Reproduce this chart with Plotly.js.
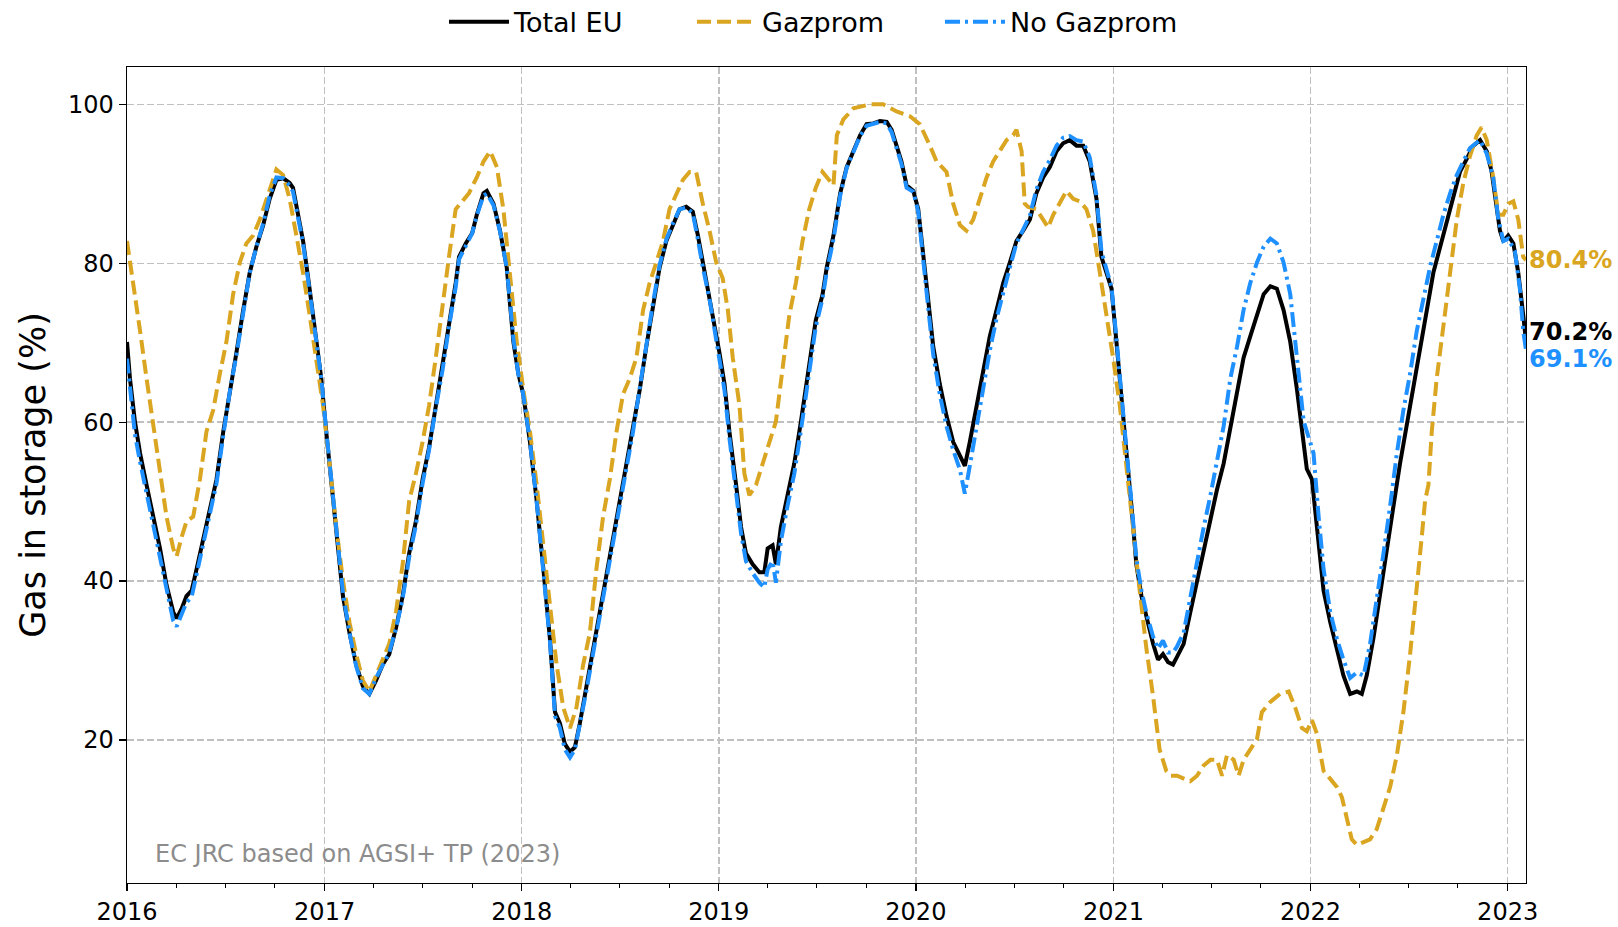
<!DOCTYPE html>
<html>
<head>
<meta charset="utf-8">
<script src="https://cdn.plot.ly/plotly-3.0.1.min.js"></script>
<style>html,body{margin:0;padding:0;background:#fff;}#chart{width:1618px;height:927px;}</style>
</head>
<body>
<div id="chart"></div>
<script>
// ---- Data (decimal years, % of storage filled) ----
const totalT = [2016.000,2016.015,2016.040,2016.066,2016.099,2016.133,2016.167,2016.200,2016.234,2016.251,2016.276,2016.301,2016.327,2016.352,2016.386,2016.419,2016.453,2016.487,2016.520,2016.554,2016.588,2016.621,2016.655,2016.689,2016.722,2016.756,2016.790,2016.823,2016.840,2016.865,2016.891,2016.924,2016.958,2016.983,2017.008,2017.042,2017.067,2017.093,2017.126,2017.160,2017.194,2017.227,2017.261,2017.295,2017.328,2017.362,2017.396,2017.429,2017.463,2017.497,2017.530,2017.564,2017.598,2017.631,2017.665,2017.682,2017.716,2017.749,2017.772,2017.806,2017.823,2017.857,2017.890,2017.924,2017.958,2017.983,2018.008,2018.042,2018.076,2018.110,2018.143,2018.169,2018.194,2018.219,2018.245,2018.270,2018.295,2018.329,2018.363,2018.396,2018.430,2018.464,2018.497,2018.531,2018.565,2018.599,2018.632,2018.666,2018.700,2018.734,2018.767,2018.801,2018.835,2018.868,2018.894,2018.919,2018.953,2018.978,2019.003,2019.029,2019.054,2019.088,2019.113,2019.138,2019.172,2019.206,2019.231,2019.248,2019.273,2019.290,2019.315,2019.349,2019.383,2019.417,2019.459,2019.492,2019.526,2019.548,2019.582,2019.616,2019.649,2019.683,2019.717,2019.750,2019.784,2019.818,2019.852,2019.877,2019.902,2019.927,2019.953,2019.987,2020.012,2020.037,2020.062,2020.088,2020.121,2020.155,2020.189,2020.223,2020.248,2020.273,2020.307,2020.341,2020.374,2020.408,2020.442,2020.476,2020.509,2020.543,2020.577,2020.610,2020.644,2020.678,2020.712,2020.745,2020.779,2020.813,2020.847,2020.880,2020.914,2020.939,2020.965,2020.990,2021.015,2021.040,2021.066,2021.091,2021.116,2021.142,2021.167,2021.201,2021.226,2021.251,2021.277,2021.302,2021.323,2021.356,2021.390,2021.424,2021.458,2021.492,2021.525,2021.559,2021.593,2021.627,2021.660,2021.694,2021.728,2021.762,2021.796,2021.829,2021.863,2021.897,2021.931,2021.956,2021.981,2022.007,2022.032,2022.066,2022.100,2022.133,2022.167,2022.201,2022.235,2022.260,2022.285,2022.319,2022.353,2022.387,2022.421,2022.454,2022.488,2022.522,2022.556,2022.590,2022.623,2022.657,2022.691,2022.725,2022.758,2022.792,2022.826,2022.860,2022.894,2022.919,2022.944,2022.961,2022.978,2023.003,2023.029,2023.054,2023.079,2023.093];
const totalV = [70.1,65.5,60.1,56.1,52.1,48.1,44.1,39.5,36.1,35.3,36.5,38.1,38.8,41.5,45.5,48.8,52.8,58.8,64.1,68.8,74.1,78.8,82.1,84.8,88.1,90.5,90.7,90.1,89.5,86.1,82.8,76.8,70.1,65.5,58.8,50.1,44.1,38.1,33.5,29.5,26.8,25.8,27.5,29.5,30.8,34.1,38.1,43.5,47.5,52.8,56.8,62.1,66.8,72.1,77.5,80.8,82.5,83.8,86.1,88.8,89.1,87.5,84.1,79.5,70.1,66.1,63.5,57.5,50.1,41.5,32.8,23.5,22.1,19.5,18.5,19.1,22.1,26.8,31.5,36.1,40.1,44.8,49.5,54.1,58.8,64.1,69.5,74.8,79.5,82.8,84.8,86.8,87.1,86.5,83.5,80.1,76.1,72.1,68.8,64.8,58.8,52.1,46.8,43.5,42.1,41.1,41.1,44.1,44.5,42.1,46.8,50.8,54.8,60.1,66.8,72.8,76.0,79.5,83.5,88.8,92.1,94.1,96.1,97.5,97.6,97.9,97.8,96.8,94.8,92.8,89.8,89.1,86.8,81.5,75.5,69.5,64.8,60.8,57.5,55.8,54.5,57.5,62.1,66.8,70.8,74.1,77.5,80.1,82.8,84.1,85.5,88.8,90.8,92.1,94.1,95.1,95.5,94.8,94.8,92.8,88.1,80.8,78.8,76.8,70.1,62.8,56.1,49.5,42.1,38.1,35.5,32.1,30.1,30.8,29.8,29.5,30.5,32.1,36.1,40.1,44.1,48.1,51.5,54.8,59.5,64.1,68.1,70.8,73.5,76.1,77.1,76.8,74.1,70.1,64.1,58.8,54.1,52.8,46.8,38.8,34.8,31.5,28.1,25.8,26.1,25.8,28.1,32.8,38.1,44.1,49.5,54.8,59.5,64.1,69.5,74.1,78.8,82.1,85.5,88.8,91.5,93.1,94.8,95.5,94.1,91.5,87.5,84.1,82.8,83.5,82.5,78.8,73.5,70.2];

const gazT = [2016.000,2016.032,2016.066,2016.099,2016.133,2016.167,2016.200,2016.234,2016.251,2016.276,2016.301,2016.335,2016.369,2016.402,2016.436,2016.470,2016.503,2016.537,2016.571,2016.604,2016.638,2016.672,2016.705,2016.739,2016.756,2016.790,2016.823,2016.857,2016.891,2016.924,2016.958,2016.992,2017.025,2017.059,2017.093,2017.126,2017.160,2017.194,2017.227,2017.261,2017.295,2017.328,2017.362,2017.396,2017.429,2017.463,2017.497,2017.530,2017.564,2017.598,2017.631,2017.665,2017.699,2017.732,2017.772,2017.806,2017.840,2017.874,2017.907,2017.941,2017.975,2018.008,2018.042,2018.076,2018.110,2018.143,2018.177,2018.211,2018.245,2018.278,2018.312,2018.346,2018.379,2018.413,2018.447,2018.481,2018.514,2018.548,2018.582,2018.616,2018.649,2018.683,2018.717,2018.750,2018.784,2018.818,2018.852,2018.885,2018.919,2018.953,2018.987,2019.020,2019.046,2019.071,2019.105,2019.130,2019.155,2019.189,2019.223,2019.256,2019.290,2019.324,2019.358,2019.391,2019.425,2019.459,2019.492,2019.526,2019.548,2019.582,2019.599,2019.632,2019.683,2019.767,2019.834,2019.902,2019.970,2020.020,2020.071,2020.105,2020.155,2020.189,2020.223,2020.256,2020.290,2020.324,2020.358,2020.391,2020.425,2020.459,2020.492,2020.509,2020.535,2020.551,2020.568,2020.610,2020.644,2020.669,2020.695,2020.728,2020.762,2020.796,2020.830,2020.863,2020.897,2020.931,2020.965,2020.998,2021.032,2021.066,2021.099,2021.133,2021.167,2021.201,2021.234,2021.268,2021.289,2021.323,2021.356,2021.390,2021.424,2021.458,2021.492,2021.525,2021.551,2021.576,2021.610,2021.635,2021.660,2021.694,2021.728,2021.753,2021.796,2021.846,2021.889,2021.922,2021.956,2021.981,2022.007,2022.032,2022.066,2022.100,2022.133,2022.159,2022.184,2022.209,2022.235,2022.269,2022.302,2022.336,2022.370,2022.404,2022.438,2022.471,2022.505,2022.539,2022.564,2022.581,2022.598,2022.615,2022.640,2022.674,2022.708,2022.742,2022.775,2022.809,2022.843,2022.868,2022.894,2022.927,2022.953,2022.978,2023.003,2023.029,2023.054,2023.079,2023.093];
const gazV = [82.8,77.5,71.5,65.5,59.5,53.5,48.1,44.1,43.1,45.5,47.5,48.1,52.8,58.8,61.5,66.1,70.1,76.1,80.1,82.5,83.5,85.5,88.1,90.8,91.8,91.1,88.1,83.5,78.8,73.5,68.1,62.1,54.8,46.8,40.1,34.8,30.8,27.5,26.1,28.1,30.1,32.1,36.1,42.1,50.1,53.5,57.5,62.1,68.1,74.8,80.8,86.8,87.8,88.8,90.8,92.8,94.1,92.1,86.8,78.8,70.1,64.1,58.8,52.1,44.1,36.8,29.5,24.1,21.5,24.1,29.5,33.5,41.5,48.1,52.8,58.8,63.5,65.5,68.1,74.1,77.5,80.1,82.8,86.8,88.8,90.5,91.5,91.5,87.5,84.1,80.1,78.1,74.1,68.1,62.1,53.5,50.8,52.1,54.8,57.5,60.1,66.8,73.5,77.5,82.8,86.8,89.5,91.5,90.8,89.8,96.1,98.1,99.5,100.0,100.0,99.1,98.5,97.5,94.8,92.8,91.5,87.5,84.8,84.1,85.5,88.1,90.8,92.8,94.1,95.5,96.1,96.8,94.1,87.5,87.1,86.8,85.5,84.5,86.1,87.5,89.1,88.1,87.8,86.8,84.1,78.8,73.5,68.1,62.1,54.8,46.8,38.8,31.5,25.5,18.8,16.1,15.5,15.5,15.1,14.8,15.5,16.8,17.5,17.5,15.5,18.1,17.5,15.5,17.5,18.8,20.1,23.5,24.8,25.8,26.1,24.1,21.5,21.1,22.5,20.8,16.1,15.1,14.1,12.8,10.1,7.5,6.8,7.1,7.5,8.8,11.5,14.1,18.1,23.5,30.8,38.8,45.5,50.1,52.1,58.8,65.5,72.1,78.8,85.5,90.1,93.5,96.1,97.1,95.5,90.8,86.1,86.1,87.5,87.8,85.5,80.8,80.4];

const noGazT = [2016.000,2016.015,2016.040,2016.066,2016.099,2016.133,2016.167,2016.200,2016.234,2016.251,2016.276,2016.301,2016.327,2016.352,2016.386,2016.419,2016.453,2016.487,2016.520,2016.554,2016.588,2016.621,2016.655,2016.689,2016.722,2016.756,2016.790,2016.823,2016.840,2016.865,2016.891,2016.924,2016.958,2016.983,2017.008,2017.042,2017.067,2017.093,2017.126,2017.160,2017.194,2017.227,2017.261,2017.295,2017.328,2017.362,2017.396,2017.429,2017.463,2017.497,2017.530,2017.564,2017.598,2017.631,2017.665,2017.682,2017.716,2017.749,2017.772,2017.806,2017.823,2017.857,2017.890,2017.924,2017.958,2017.983,2018.008,2018.042,2018.076,2018.110,2018.143,2018.169,2018.194,2018.219,2018.245,2018.270,2018.295,2018.329,2018.363,2018.396,2018.430,2018.464,2018.497,2018.531,2018.565,2018.599,2018.632,2018.666,2018.700,2018.734,2018.767,2018.801,2018.835,2018.868,2018.894,2018.919,2018.953,2018.978,2019.003,2019.029,2019.054,2019.088,2019.113,2019.138,2019.172,2019.206,2019.231,2019.248,2019.273,2019.290,2019.315,2019.349,2019.383,2019.417,2019.459,2019.492,2019.526,2019.548,2019.582,2019.616,2019.649,2019.683,2019.717,2019.750,2019.784,2019.818,2019.852,2019.877,2019.902,2019.927,2019.953,2019.987,2020.012,2020.037,2020.062,2020.088,2020.121,2020.155,2020.189,2020.223,2020.248,2020.273,2020.307,2020.341,2020.374,2020.408,2020.442,2020.476,2020.509,2020.543,2020.577,2020.610,2020.644,2020.678,2020.712,2020.745,2020.779,2020.813,2020.847,2020.880,2020.914,2020.939,2020.965,2020.990,2021.015,2021.040,2021.066,2021.091,2021.116,2021.142,2021.167,2021.201,2021.226,2021.251,2021.277,2021.302,2021.323,2021.356,2021.390,2021.424,2021.458,2021.492,2021.525,2021.559,2021.593,2021.627,2021.660,2021.694,2021.728,2021.762,2021.796,2021.829,2021.863,2021.897,2021.931,2021.965,2021.998,2022.015,2022.041,2022.066,2022.100,2022.133,2022.167,2022.201,2022.235,2022.269,2022.302,2022.336,2022.370,2022.404,2022.438,2022.471,2022.505,2022.539,2022.573,2022.606,2022.640,2022.674,2022.708,2022.742,2022.775,2022.809,2022.860,2022.894,2022.927,2022.953,2022.978,2023.003,2023.037,2023.062,2023.079,2023.093];
const noGazV = [68.0,64.0,58.5,55.0,51.0,47.0,43.0,38.5,35.0,34.3,35.8,37.3,38.0,40.8,45.0,48.3,52.3,58.3,63.8,68.5,74.0,78.8,82.1,85.0,88.5,90.8,90.7,89.8,89.0,85.8,82.5,76.5,70.0,65.5,59.0,50.5,44.5,38.5,33.5,29.3,26.5,25.8,27.8,29.5,31.0,34.0,37.8,43.0,47.0,52.3,56.5,61.8,66.5,72.0,77.0,80.5,82.3,83.8,86.0,88.5,88.8,87.3,84.0,79.5,70.5,66.0,63.5,57.5,50.0,41.5,32.5,23.0,21.5,18.8,17.8,18.8,21.8,26.3,31.0,35.5,39.8,44.5,49.3,54.0,58.8,64.3,69.8,75.0,79.8,83.0,85.0,86.8,87.0,86.3,83.0,79.5,75.5,71.5,68.0,64.0,58.0,51.5,46.0,42.5,41.0,39.8,39.2,41.5,42.5,39.8,45.0,49.5,53.5,59.0,66.0,72.0,75.5,79.0,83.0,88.5,92.0,94.0,96.0,97.3,97.6,97.8,97.6,96.5,94.5,92.5,89.5,89.0,86.5,81.0,74.5,68.5,63.5,59.5,56.5,54.0,51.0,54.5,59.5,64.5,69.0,73.0,76.5,79.5,82.5,84.3,86.0,89.3,91.5,93.0,94.8,95.8,96.0,95.5,95.3,93.3,88.5,81.5,79.3,77.0,70.5,63.0,56.5,50.0,42.8,38.8,36.0,33.0,31.5,32.5,31.0,31.0,31.8,33.5,38.1,42.1,46.8,50.8,54.8,59.5,65.5,69.5,74.1,77.5,80.1,82.1,83.1,82.5,80.1,76.1,68.1,60.1,57.5,56.1,48.1,41.5,36.1,32.8,30.1,27.8,28.5,28.1,32.1,37.5,43.5,49.5,56.1,61.5,66.1,71.5,75.5,79.5,82.8,86.1,88.8,91.1,92.8,94.5,95.5,93.8,90.8,85.5,82.8,83.1,81.5,76.8,71.5,69.1];

const seriesNames = ['Total EU', 'Gazprom', 'No Gazprom'];
const lastLabels = ['70.2%', '80.4%', '69.1%'];
const yTicks = [20, 40, 60, 80, 100];
const sourceNote = 'EC JRC based on AGSI+ TP (2023)';

// decimal year -> date string
function dy(y) {
  const yr = Math.floor(y);
  const s = Date.UTC(yr, 0, 1), e = Date.UTC(yr + 1, 0, 1);
  return new Date(s + (y - yr) * (e - s)).toISOString().slice(0, 19).replace('T', ' ');
}

const C_BLACK = '#000000', C_GOLD = '#DAA520', C_BLUE = '#1E90FF';
const FONT = 'DejaVu Sans, sans-serif';
const LW = 4;

const traces = [
  {x: totalT.map(dy), y: totalV, name: seriesNames[0], mode: 'lines', line: {color: C_BLACK, width: LW}},
  {x: gazT.map(dy), y: gazV, name: seriesNames[1], mode: 'lines', line: {color: C_GOLD, width: LW, dash: '14px,6px'}},
  {x: noGazT.map(dy), y: noGazV, name: seriesNames[2], mode: 'lines', line: {color: C_BLUE, width: LW, dash: '15px,5px,3px,5px'}}
];

const layout = {
  width: 1618, height: 927,
  margin: {l: 127, r: 92, t: 67, b: 44, autoexpand: false},
  paper_bgcolor: '#fff', plot_bgcolor: '#fff',
  font: {family: FONT, color: '#000', size: 24},
  showlegend: true,
  legend: {orientation: 'h', xref: 'container', yref: 'container', x: 0.2744, xanchor: 'left', y: 0.976, yanchor: 'middle',
           font: {size: 27, family: FONT}, itemwidth: 60, entrywidth: 173, entrywidthmode: 'pixels',
           bgcolor: 'rgba(0,0,0,0)', traceorder: 'normal'},
  xaxis: {
    type: 'date', range: ['2016-01-01', '2023-02-04'],
    dtick: 'M12', tick0: '2016-01-01', tickformat: '%Y',
    ticks: 'outside', ticklen: 7, tickwidth: 1.3, tickcolor: '#000',
    tickfont: {size: 24, family: FONT},
    showgrid: true, gridcolor: '#c0c0c0', gridwidth: 1.5, griddash: '7px,3px',
    minor: {dtick: 'M3', tick0: '2016-01-01', ticks: 'outside', ticklen: 4, tickwidth: 1, tickcolor: '#000', showgrid: false},
    showline: true, linecolor: '#000', linewidth: 1.3, mirror: true,
    zeroline: false, automargin: false
  },
  yaxis: {
    range: [2.0, 104.7], tickvals: yTicks,
    ticks: 'outside', ticklen: 7, tickwidth: 1.3, tickcolor: '#000',
    tickfont: {size: 24, family: FONT},
    showgrid: true, gridcolor: '#c0c0c0', gridwidth: 1.5, griddash: '7px,3px',
    showline: true, linecolor: '#000', linewidth: 1.3, mirror: true,
    zeroline: false, automargin: false,
    title: {text: 'Gas in storage (%)', font: {size: 35, family: FONT}, standoff: 11}
  },
  annotations: [
    {xref: 'paper', yref: 'y', x: 1, y: totalV[totalV.length - 1], xanchor: 'left', yanchor: 'middle', xshift: 1, yshift: 9,
     text: '<b>' + lastLabels[0] + '</b>', showarrow: false, font: {size: 24, color: C_BLACK, family: FONT}},
    {xref: 'paper', yref: 'y', x: 1, y: gazV[gazV.length - 1], xanchor: 'left', yanchor: 'middle', xshift: 1,
     text: '<b>' + lastLabels[1] + '</b>', showarrow: false, font: {size: 24, color: C_GOLD, family: FONT}},
    {xref: 'paper', yref: 'y', x: 1, y: noGazV[noGazV.length - 1], xanchor: 'left', yanchor: 'middle', xshift: 1, yshift: -9,
     text: '<b>' + lastLabels[2] + '</b>', showarrow: false, font: {size: 24, color: C_BLUE, family: FONT}},
    {xref: 'paper', yref: 'paper', x: 0.0186, y: 0.0355, xanchor: 'left', yanchor: 'middle',
     text: sourceNote, showarrow: false, font: {size: 24, color: '#8c8c8c', family: FONT}}
  ]
};

Plotly.newPlot('chart', traces, layout, {staticPlot: true, displayModeBar: false});
</script>
</body>
</html>
